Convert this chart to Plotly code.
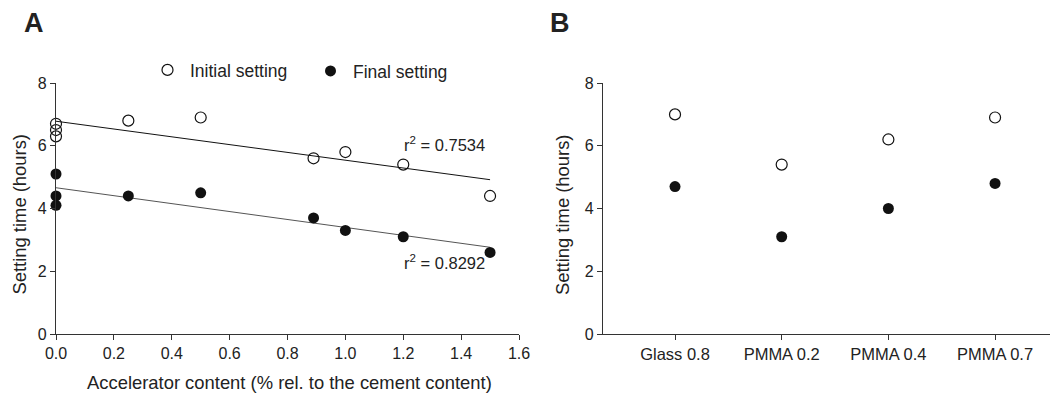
import numpy as np
import plotly.graph_objects as go

# Panel A data
acc_x = [0.0, 0.0, 0.0, 0.25, 0.5, 0.89, 1.0, 1.2, 1.5]
initial_a = [6.7, 6.5, 6.3, 6.8, 6.9, 5.6, 5.8, 5.4, 4.4]
final_a = [5.1, 4.4, 4.1, 4.4, 4.5, 3.7, 3.3, 3.1, 2.6]
r2_initial = "0.7534"
r2_final = "0.8292"

# Panel B data
cats_b = ["Glass 0.8", "PMMA 0.2", "PMMA 0.4", "PMMA 0.7"]
initial_b = [7.0, 5.4, 6.2, 6.9]
final_b = [4.7, 3.1, 4.0, 4.8]

FONT = "Arial, Liberation Sans, sans-serif"
# page body has an 8px margin; figure fills the rest of the 1058x393 window
OFF = 8
FW, FH = 1058 - OFF, 393 - OFF


def px(X):
    return (X - OFF) / FW


def py(Y):
    return (393 - Y) / FH


fig = go.Figure()

# regression lines (computed from data)
xfit = np.array([min(acc_x), max(acc_x)])
pi = np.polyfit(acc_x, initial_a, 1)
pf = np.polyfit(acc_x, final_a, 1)
fig.add_trace(go.Scatter(x=xfit, y=np.polyval(pi, xfit), mode="lines",
                         line=dict(color="#111", width=1), showlegend=False,
                         xaxis="x", yaxis="y", hoverinfo="skip"))
fig.add_trace(go.Scatter(x=xfit, y=np.polyval(pf, xfit), mode="lines",
                         line=dict(color="#555", width=1), showlegend=False,
                         xaxis="x", yaxis="y", hoverinfo="skip"))

open_marker = dict(symbol="circle-open", size=11, color="#111", line=dict(width=1.2))
fill_marker = dict(symbol="circle", size=11, color="#111", line=dict(width=0))

fig.add_trace(go.Scatter(x=acc_x, y=initial_a, mode="markers", marker=open_marker,
                         name="Initial setting", cliponaxis=False, xaxis="x", yaxis="y",
                         legend="legend"))
fig.add_trace(go.Scatter(x=acc_x, y=final_a, mode="markers", marker=fill_marker,
                         name="Final setting", cliponaxis=False, xaxis="x", yaxis="y",
                         legend="legend2"))

fig.add_trace(go.Scatter(x=list(range(len(cats_b))), y=initial_b, mode="markers",
                         marker=open_marker, showlegend=False, xaxis="x2", yaxis="y2"))
fig.add_trace(go.Scatter(x=list(range(len(cats_b))), y=final_b, mode="markers",
                         marker=fill_marker, showlegend=False, xaxis="x2", yaxis="y2"))

ydom = [py(334), py(83)]
axis_common = dict(showgrid=False, zeroline=False, showline=True, linecolor="#333",
                   linewidth=1.3, ticks="outside", ticklen=5, tickcolor="#333",
                   tickwidth=1.3, automargin=False)
num_tick = dict(size=16, color="#222", family=FONT)
cat_tick = dict(size=16.5, color="#222", family=FONT)
leg_font = dict(size=17.5, family=FONT, color="#222")

fig.update_layout(
    template="none",
    width=FW, height=FH,
    margin=dict(l=0, r=0, t=0, b=0, pad=0),
    paper_bgcolor="white", plot_bgcolor="white",
    font=dict(family=FONT, color="#222"),
    xaxis=dict(domain=[px(56), px(519)], range=[0, 1.6], dtick=0.2,
               tickformat=".1f", anchor="y", tickfont=num_tick, **axis_common),
    yaxis=dict(domain=ydom, range=[0, 8], dtick=2, anchor="x", tickfont=num_tick,
               **axis_common),
    xaxis2=dict(domain=[px(603), 1.0], range=[-0.675, 3.59],
                tickvals=list(range(len(cats_b))), ticktext=cats_b, anchor="y2",
                tickfont=cat_tick, **axis_common),
    yaxis2=dict(domain=ydom, range=[0, 8], dtick=2, anchor="x2", tickfont=num_tick,
                **axis_common),
    legend=dict(orientation="h", x=px(145), y=py(70), xanchor="left",
                yanchor="middle", font=leg_font, bgcolor="rgba(0,0,0,0)",
                itemwidth=35),
    legend2=dict(orientation="h", x=px(308), y=py(71), xanchor="left",
                 yanchor="middle", font=leg_font, bgcolor="rgba(0,0,0,0)",
                 itemwidth=35),
)

annos = [
    dict(text="<b>A</b>", x=px(33.5), y=py(22.6), xref="paper", yref="paper",
         xanchor="center", yanchor="middle", showarrow=False, font=dict(size=27)),
    dict(text="<b>B</b>", x=px(559.5), y=py(22.6), xref="paper", yref="paper",
         xanchor="center", yanchor="middle", showarrow=False, font=dict(size=27)),
    dict(text="Setting time (hours)", x=px(18.5), y=py(215), xref="paper",
         yref="paper", textangle=-90, showarrow=False, font=dict(size=18.4),
         xanchor="center", yanchor="middle"),
    dict(text="Setting time (hours)", x=px(562), y=py(215), xref="paper",
         yref="paper", textangle=-90, showarrow=False, font=dict(size=18.4),
         xanchor="center", yanchor="middle"),
    dict(text="Accelerator content (% rel. to the cement content)", x=px(289.5),
         y=py(382), xref="paper", yref="paper", showarrow=False,
         font=dict(size=18.4), xanchor="center", yanchor="middle"),
    dict(text="r<sup>2</sup> = " + r2_initial, x=1.196, y=6.06, xref="x", yref="y",
         xanchor="left", yanchor="middle", showarrow=False, font=dict(size=16.5)),
    dict(text="r<sup>2</sup> = " + r2_final, x=1.196, y=2.29, xref="x", yref="y",
         xanchor="left", yanchor="middle", showarrow=False, font=dict(size=16.5)),
]
fig.update_layout(annotations=annos)

fig.write_html("out.html")
